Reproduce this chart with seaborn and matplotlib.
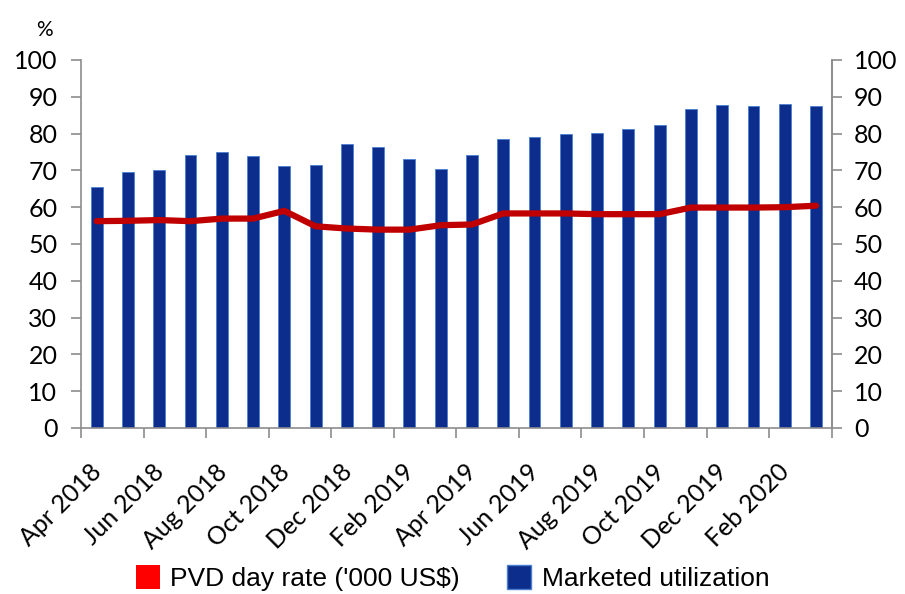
import numpy as np
import pandas as pd
import matplotlib
matplotlib.use("Agg")
import matplotlib.pyplot as plt
import matplotlib.transforms as mtransforms
from matplotlib.patches import Patch
import seaborn as sns

# Data
months = ["Apr 2018", "May 2018", "Jun 2018", "Jul 2018", "Aug 2018", "Sep 2018",
          "Oct 2018", "Nov 2018", "Dec 2018", "Jan 2019", "Feb 2019", "Mar 2019",
          "Apr 2019", "May 2019", "Jun 2019", "Jul 2019", "Aug 2019", "Sep 2019",
          "Oct 2019", "Nov 2019", "Dec 2019", "Jan 2020", "Feb 2020", "Mar 2020"]
utilization = [65.5, 69.6, 70.2, 74.1, 75.1, 73.8, 71.2, 71.4, 77.2, 76.3, 73.0, 70.5,
               74.1, 78.4, 79.1, 80.0, 80.1, 81.3, 82.3, 86.6, 87.7, 87.6, 88.1, 87.6]
day_rate = [56.2, 56.3, 56.5, 56.2, 56.9, 56.9, 59.0, 54.8, 54.2, 53.9, 53.9, 55.1,
            55.3, 58.3, 58.3, 58.3, 58.1, 58.1, 58.1, 59.9, 59.9, 59.9, 60.0, 60.4]
yticks = list(range(0, 101, 10))

df = pd.DataFrame({"month": months, "util": utilization, "rate": day_rate})
df["pos"] = np.arange(len(df))

BLUE = "#0C2D8C"
RED = "#C00000"
GREY = "#8C8C8C"
TICKFONT = ["Lato", "DejaVu Sans"]
LEGFONT = ["Liberation Sans Narrow", "Liberation Sans", "DejaVu Sans"]

sns.set_style("white")
plt.rcParams["font.family"] = TICKFONT
plt.rcParams["text.color"] = "black"
plt.rcParams["xtick.color"] = "black"
plt.rcParams["ytick.color"] = "black"

fig = plt.figure(figsize=(9.05, 5.94), dpi=100)
ax = fig.add_axes([0.0895, 0.2795, 0.8295, 0.6195])

sns.barplot(data=df, x="pos", y="util", color=BLUE, width=0.38, saturation=1,
            edgecolor="#4A7FD0", linewidth=0.6, ax=ax)
sns.lineplot(data=df, x="pos", y="rate", color=RED, linewidth=4.5, ax=ax)

ax.set_xlim(-0.5, len(df) - 0.5)
ax.set_ylim(0, 100)
ax.set_xlabel("")
ax.set_ylabel("")

# x axis: tick marks on category boundaries, labels every other month
ax.set_xticks(np.arange(-0.5, len(df), 2))
ax.set_xticklabels([])
ax.set_xticks(df["pos"][::2], minor=True)
ax.set_xticklabels(df["month"][::2], minor=True, rotation=45, ha="right",
                   rotation_mode="anchor", fontsize=18)
ax.tick_params(axis="x", which="major", length=7, color=GREY, width=1.2, direction="out", bottom=True)
ax.tick_params(axis="x", which="minor", length=0, pad=23)
shift = mtransforms.ScaledTranslation(-7 / 100, 0, fig.dpi_scale_trans)
for lab in ax.get_xticklabels(minor=True):
    lab.set_transform(lab.get_transform() + shift)

ax.set_yticks(yticks)
ax.tick_params(axis="y", length=7, color=GREY, width=1.2, direction="out", left=True,
               labelsize=18, pad=10)

sns.despine(ax=ax, top=True, right=False)
for side in ["left", "right", "bottom"]:
    ax.spines[side].set_color(GREY)
    ax.spines[side].set_linewidth(1.2)

ax2 = ax.twinx()
ax2.set_ylim(0, 100)
ax2.set_yticks(yticks)
ax2.tick_params(axis="y", length=7, color=GREY, width=1.2, direction="out", right=True,
                labelsize=18, pad=9)
for side in ["top", "left", "bottom"]:
    ax2.spines[side].set_visible(False)
ax2.spines["right"].set_color(GREY)
ax2.spines["right"].set_linewidth(1.2)

fig.text(0.049, 0.950, "%", fontsize=15, ha="center", va="center")

handles = [Patch(facecolor="#FF0000", edgecolor="none"),
           Patch(facecolor=BLUE, edgecolor="#4A7FD0")]
fig.legend(handles, ["PVD day rate ('000 US$)", "Marketed utilization"],
           loc="center", bbox_to_anchor=(0.5, 0.027), ncol=2, frameon=False,
           handlelength=0.9, handleheight=1.0, handletextpad=0.4, columnspacing=1.8,
           prop={"family": LEGFONT, "size": 19})

fig.savefig("out.png", dpi=100)
